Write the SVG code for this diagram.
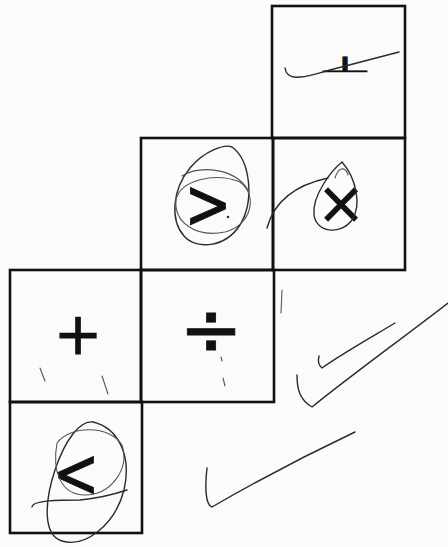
<svg xmlns="http://www.w3.org/2000/svg" width="448" height="547" viewBox="0 0 448 547">
<style>
.face{fill:none;stroke:#111;stroke-width:2.6}
.sym{font-family:"DejaVu Sans",sans-serif;fill:#111;stroke:#111;stroke-width:0.8;text-anchor:middle}
.pen{fill:none;stroke:#2a2a2a;stroke-width:1.4;stroke-linecap:round}
.pen2{fill:none;stroke:#555;stroke-width:1.1;stroke-linecap:round}
</style>
<rect width="448" height="547" fill="#fbfbfb"/>
<g id="face-top"><rect class="face" x="272" y="6" width="133" height="132"/>
<text class="sym" x="345" y="72" font-size="62" vector-effect="non-scaling-stroke" style="stroke-width:1" transform="translate(0,46.8) scale(1,0.35)">⊥</text></g>
<g id="face-gt"><rect class="face" x="141" y="138" width="132" height="132"/>
<text class="sym" x="0" y="21" font-size="56" transform="translate(208,202) scale(1,1.25)">&gt;</text></g>
<g id="face-times"><rect class="face" x="273" y="138" width="132" height="132"/>
<text class="sym" x="341" y="223" font-size="58">×</text></g>
<g id="face-plus"><rect class="face" x="10" y="270" width="131" height="132"/>
<text class="sym" x="78" y="354" font-size="58">+</text></g>
<g id="face-div"><rect class="face" x="141" y="270" width="133" height="132"/>
<text class="sym" x="211" y="356" font-size="76">÷</text></g>
<g id="face-lt"><rect class="face" x="10" y="402" width="132" height="131"/>
<text class="sym" x="0" y="21" font-size="56" transform="translate(76,471) scale(1,1.25)">&lt;</text></g>
<g id="connectors">
<path class="pen" d="M285,68 C286,76 292,78 300,77 C312,76 318,73 330,70 L399,52"/>
<path class="pen" d="M232,147 C250,160 255,200 240,225 C225,248 196,250 184,236 C170,220 172,190 190,168 C205,150 225,144 232,147"/>
<path class="pen2" d="M176,200 C180,180 215,172 240,182 C258,195 252,225 225,232 C195,238 174,222 176,200"/>
<path class="pen2" d="M182,176 C200,165 235,168 248,190"/>
<circle cx="228" cy="217" r="1.3" fill="#333"/>
<path class="pen" d="M342,162 C332,170 312,195 314,215 C316,232 340,236 352,220 C362,205 356,178 342,162"/>
<path class="pen2" d="M335,178 C338,168 345,165 348,175"/>
<path class="pen" d="M267,228 C275,198 300,184 328,178"/>
<path class="pen2" d="M40,368 L45,381 M102,376 L108,394 M221,357 L222,361 M223,378 L225,386 M282,290 L281,313"/>
<path class="pen" d="M395,323 C370,338 340,355 322,368 C318,365 318,360 319,356"/>
<path class="pen" d="M448,303 C400,340 345,380 312,407 C300,400 297,390 297,375"/>
<path class="pen" d="M355,432 C300,458 250,485 212,507 C205,505 205,485 207,468"/>
<path class="pen" d="M93,422 C118,428 132,455 124,490 C115,525 85,548 62,541 C42,535 45,500 55,470 C65,440 80,420 93,422"/>
<path class="pen2" d="M57,443 C70,425 110,425 122,445 C130,470 110,495 85,495 C60,495 52,470 57,443"/>
<path class="pen" d="M32,507 C33,500 60,500 80,500 C100,498 115,494 127,490"/>
</g>
</svg>
